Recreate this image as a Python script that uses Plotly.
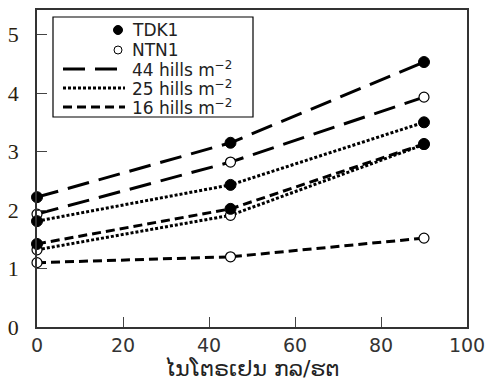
import plotly.graph_objects as go

# ---- data ----
nitrogen = [0, 45, 90]
tdk1_44 = [2.22, 3.15, 4.53]
ntn1_44 = [1.93, 2.82, 3.93]
tdk1_25 = [1.81, 2.43, 3.50]
ntn1_25 = [1.32, 1.91, 3.12]
tdk1_16 = [1.42, 2.02, 3.13]
ntn1_16 = [1.10, 1.20, 1.52]

x_ticks = [0, 20, 40, 60, 80, 100]
y_ticks = [0, 1, 2, 3, 4, 5]
x_title = "ໄນໂຕຣເຢນ ກລ/ຮຕ"
legend_labels = ["TDK1", "NTN1", "44 hills m<sup>−2</sup>", "25 hills m<sup>−2</sup>", "16 hills m<sup>−2</sup>"]

W, H = 495, 382
L, R, T, B = 37, 28, 10, 55
PW, PH = W - L - R, H - T - B

DASH44 = "22px,10px"
DASH25 = "3px,2px"
DASH16 = "9px,5px"

filled = dict(symbol="circle", size=11, color="black", line=dict(color="black", width=1))
opened = dict(symbol="circle", size=10, color="white", line=dict(color="black", width=1.2))

fig = go.Figure()
series = [
    (ntn1_16, DASH16, opened),
    (ntn1_25, DASH25, opened),
    (ntn1_44, DASH44, opened),
    (tdk1_16, DASH16, filled),
    (tdk1_25, DASH25, filled),
    (tdk1_44, DASH44, filled),
]
for ys, dash, mk in series:
    fig.add_trace(go.Scatter(
        x=nitrogen, y=ys, mode="lines+markers",
        line=dict(color="black", width=3, dash=dash),
        marker=mk, showlegend=False, cliponaxis=False,
    ))

def px(x):
    return (x - L) / PW

def py(y):
    return (H - B - y) / PH

shapes = []
annotations = []
# legend box
shapes.append(dict(type="rect", xref="paper", yref="paper",
                   x0=px(53), x1=px(253), y0=py(117), y1=py(17),
                   line=dict(color="black", width=1.2), fillcolor="white", layer="above"))
rows = [30, 50, 69, 88, 107]
for i, (fill, r) in enumerate([("black", 4.5), ("white", 4)]):
    cy = rows[i]
    shapes.append(dict(type="circle", xref="paper", yref="paper",
                       x0=px(118 - r), x1=px(118 + r), y0=py(cy + r), y1=py(cy - r),
                       line=dict(color="black", width=1), fillcolor=fill, layer="above"))
for i, dash in enumerate([DASH44, DASH25, DASH16]):
    cy = rows[i + 2]
    shapes.append(dict(type="line", xref="paper", yref="paper",
                       x0=px(63), x1=px(125), y0=py(cy), y1=py(cy),
                       line=dict(color="black", width=3, dash=dash), layer="above"))
for lab, cy in zip(legend_labels, rows):
    annotations.append(dict(xref="paper", yref="paper", x=px(130), y=py(cy),
                            text=lab, showarrow=False, xanchor="left", yanchor="middle",
                            font=dict(family="DejaVu Sans", size=17, color="#222")))

fig.update_layout(
    width=W, height=H,
    margin=dict(l=L, r=R, t=T, b=B, autoexpand=False),
    paper_bgcolor="white", plot_bgcolor="white",
    shapes=shapes, annotations=annotations,
    xaxis=dict(range=[0, 100], tickvals=x_ticks, ticks="inside", ticklen=10,
               tickcolor="#444", showline=True, mirror=True, linecolor="#333", linewidth=1.5,
               showgrid=False, zeroline=False, automargin=False,
               tickfont=dict(family="DejaVu Sans, Verdana", size=19, color="#333"),
               title=dict(text=x_title, font=dict(family="DejaVu Sans", size=22, color="#222"), standoff=4)),
    yaxis=dict(range=[0, 5.42], tickvals=y_ticks, ticks="inside", ticklen=10,
               tickcolor="#444", showline=True, mirror=True, linecolor="#333", linewidth=1.5,
               showgrid=False, zeroline=False, ticklabelstandoff=12, automargin=False,
               tickfont=dict(family="Liberation Serif, Times New Roman, serif", size=22, color="#2a1e10")),
)

fig.write_html("out.html")
